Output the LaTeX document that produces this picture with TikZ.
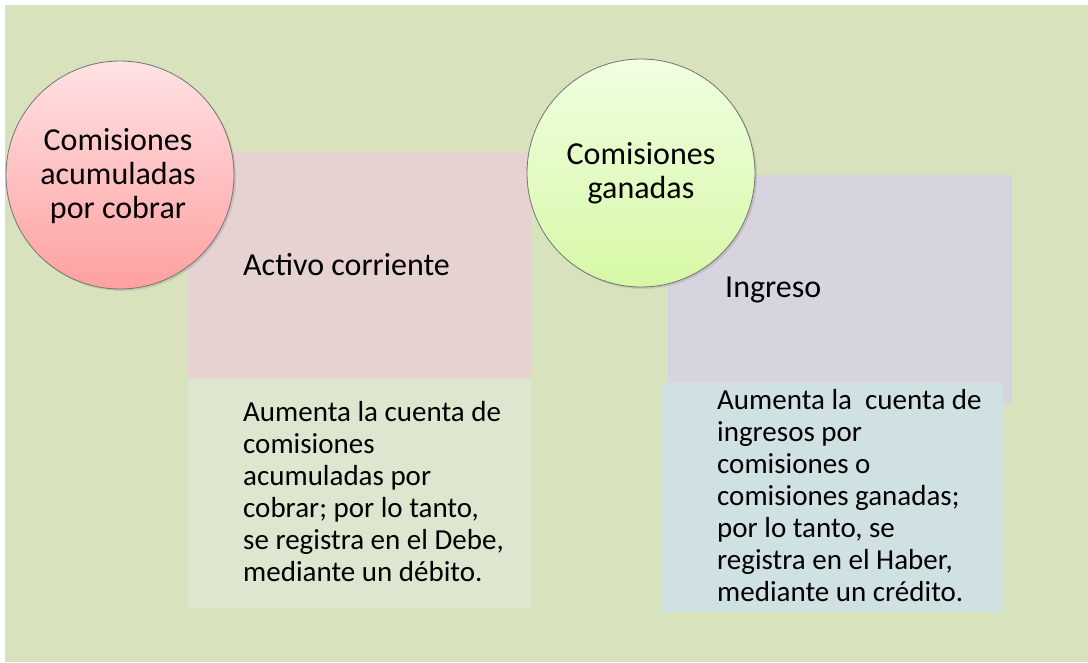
\documentclass[tikz,border=0pt]{standalone}
\usepackage{fontspec}
\setmainfont{Carlito}
\usetikzlibrary{shadows}
\definecolor{bgc}{RGB}{216,227,189}
\definecolor{pinkbox}{RGB}{229,210,209}
\definecolor{greenbox}{RGB}{221,230,206}
\definecolor{purplebox}{RGB}{216,212,223}
\definecolor{bluebox}{RGB}{208,225,227}
\definecolor{redtop}{RGB}{255,226,228}
\definecolor{redbot}{RGB}{255,160,160}
\definecolor{grntop}{RGB}{240,255,226}
\definecolor{grnbot}{RGB}{214,248,166}
\tikzset{
  bubble/.style={circle, draw=black!55, line width=0.8pt, minimum size=228pt, inner sep=0pt,
    drop shadow={opacity=0.25, shadow xshift=2pt, shadow yshift=-2pt}},
  bubbletext/.style={anchor=north, inner sep=0pt, align=center, font=\fontsize{32}{34}\selectfont},
  body/.style={anchor=north west, inner sep=0pt, align=left, font=\fontsize{29}{32}\selectfont},
  head/.style={anchor=base west, inner sep=0pt, font=\fontsize{32}{34}\selectfont}
}
\begin{document}
\begin{tikzpicture}[x=1pt,y=-1pt]
\useasboundingbox (0,0) rectangle (1088,662);
\fill[white] (0,0) rectangle (1088,662);
\fill[bgc] (5,5) rectangle (1088,662);
% left column
\fill[pinkbox] (188,152) rectangle (531,379);
\fill[greenbox] (188,379) rectangle (531,608);
% right column
\fill[purplebox] (668,175) rectangle (1012,403);
\fill[bluebox] (661,383) rectangle (1003,612);
\node[head] (ac) at (243,275) {Activo corriente};
\node[head] (ing) at (725,297) {Ingreso};
\node[body] (t1) at (243,399) {\rule{0pt}{22pt}Aumenta la cuenta de\\comisiones\\acumuladas por\\cobrar; por lo tanto,\\se registra en el Debe,\\mediante un débito.};
\node[body] (t2) at (717,387) {\rule{0pt}{22pt}Aumenta la\ \ cuenta de\\ingresos por\\comisiones o\\comisiones ganadas;\\por lo tanto, se\\registra en el Haber,\\mediante un crédito.};
% circles
\node[bubble, top color=redtop, bottom color=redbot] (c1) at (120,175) {};
\node[bubble, top color=grntop, bottom color=grnbot] (c2) at (641,173) {};
\node[bubbletext] (c1t) at (118,126) {\rule{0pt}{24pt}Comisiones\\acumuladas\\por cobrar};
\node[bubbletext] (c2t) at (641,140) {\rule{0pt}{24pt}Comisiones\\ganadas};
\end{tikzpicture}
\end{document}
